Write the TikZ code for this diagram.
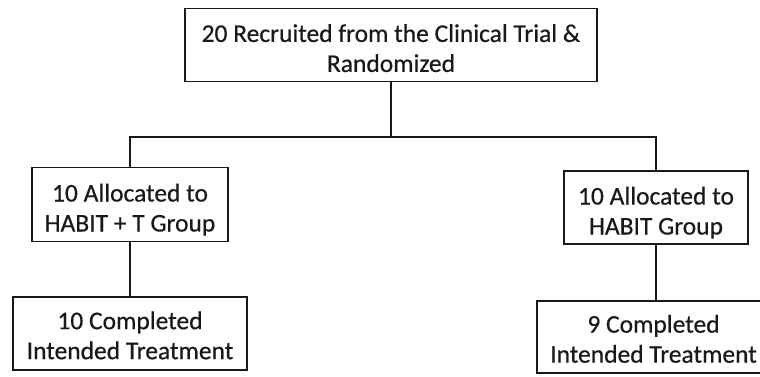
\documentclass[tikz,border=0pt]{standalone}
\usepackage{fontspec}
\setmainfont[FakeBold=0.5]{Carlito}
\newcommand{\topstrut}{\rule{0pt}{24pt}}
\newcommand{\lowstrut}{\rule{0pt}{21.5pt}}
\begin{document}
\begin{tikzpicture}[x=1pt,y=-1pt,
  boxtext/.style={align=center, inner sep=0pt,
    font=\fontsize{25.5}{30}\selectfont, text=black!90},
  box/.style={boxtext, draw=black!90, line width=1.6pt},
  link/.style={draw=black!90, line width=1.6pt}]
\useasboundingbox (0,0) rectangle (760,376);
\clip (0,0) rectangle (760,376);
\node[box, minimum width=412pt, minimum height=73pt] (top) at (391,45) {\topstrut 20 Recruited from the Clinical Trial \&\\Randomized};
\node[box, minimum width=196pt, minimum height=74pt] (l1) at (130,204.5) {\topstrut 10 Allocated to\\\smash{HABIT + T Group}};
\node[box, minimum width=184pt, minimum height=73pt] (r1) at (656,207.5) {\topstrut 10 Allocated to\\\smash{HABIT Group}};
\node[box, minimum width=234pt, minimum height=73pt] (l2) at (130,333.5) {\lowstrut 10 Completed\\Intended Treatment};
\node[box, minimum width=238pt, minimum height=72pt] (r2) at (656,337) {};
\node[boxtext] (r2t) at (653.5,337) {\lowstrut 9 Completed\\Intended Treatment};
\coordinate (bus) at (391,137);
\coordinate (busl) at (l1.north |- bus);
\coordinate (busr) at (r1.north |- bus);
\draw[link] (top.south) -- (bus);
\draw[link] (l1.north) -- (busl) -- (busr) -- (r1.north);
\draw[link] (l1.south) -- (l2.north);
\draw[link] (r1.south) -- (r2.north);
\end{tikzpicture}
\end{document}
